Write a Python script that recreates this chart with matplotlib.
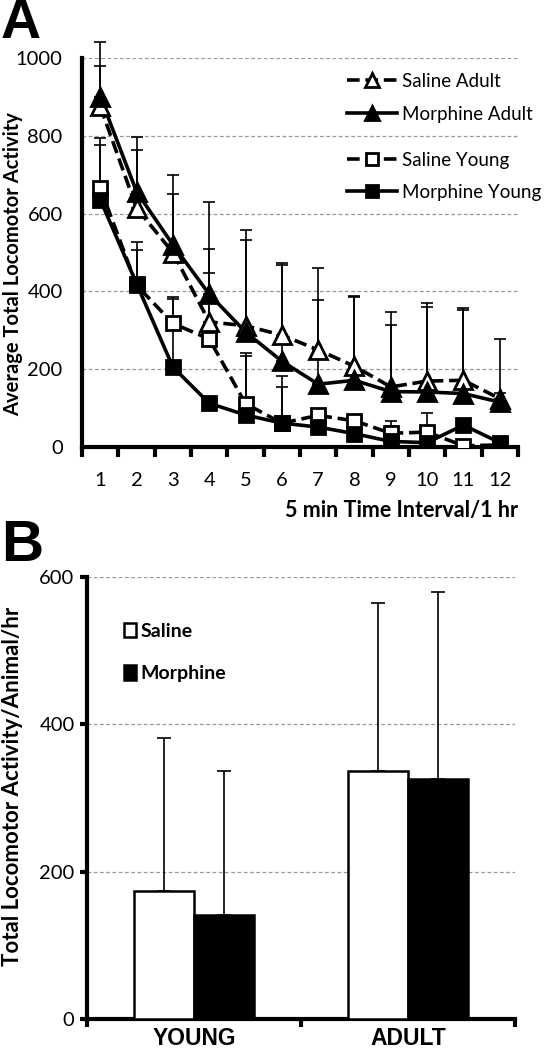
import numpy as np
import matplotlib.pyplot as plt
from matplotlib.lines import Line2D

plt.rcParams['font.family'] = ['Lato', 'DejaVu Sans']

# Panel A data: 5 min intervals
intervals = np.arange(1, 13)
saline_adult = [875, 614, 500, 322, 312, 288, 250, 208, 155, 170, 172, 125]
morphine_adult = [900, 656, 520, 393, 296, 221, 162, 172, 143, 142, 138, 116]
saline_young = [666, 416, 318, 278, 112, 62, 82, 68, 36, 39, 4, 6]
morphine_young = [636, 420, 206, 113, 83, 62, 52, 35, 15, 12, 57, 12]

# upper ends of error bars
saline_adult_top = [979, 763, 650, 509, 532, 468, 378, 386, 314, 360, 352, 140]
morphine_adult_top = [1041, 797, 699, 630, 558, 473, 460, 389, 347, 370, 357, 278]
saline_young_top = [794, 527, 386, 447, 242, 182, 95, 80, 67, 87, 10, 15]
morphine_young_top = [776, 506, 380, 125, 234, 154, 62, 45, 54, 20, 70, 20]

# Panel B data
groups = ['YOUNG', 'ADULT']
saline_total = [174, 337]
morphine_total = [141, 326]
saline_total_top = [381, 565]
morphine_total_top = [337, 580]

fig = plt.figure(figsize=(5.51, 10.5), dpi=100)

# ---------- Panel A ----------
ax = fig.add_axes([0.149, 0.574, 0.791, 0.371])

series = [
    (saline_adult, saline_adult_top, '^', 'white', (0, (3.5, 1.6)), 'Saline Adult'),
    (morphine_adult, morphine_adult_top, '^', 'black', '-', 'Morphine Adult'),
    (saline_young, saline_young_top, 's', 'white', (0, (3.5, 1.6)), 'Saline Young'),
    (morphine_young, morphine_young_top, 's', 'black', '-', 'Morphine Young'),
]

handles = []
for vals, tops, mk, fc, ls, lab in series:
    vals = np.array(vals)
    up = np.array(tops) - vals
    eb = ax.errorbar(intervals, vals, yerr=[np.zeros_like(up), up], fmt='none',
                     ecolor='black', elinewidth=1.2, capsize=4.5, capthick=1.2, zorder=2)
    for art in eb.lines[1] + eb.lines[2]:
        art.set_clip_on(False)
    ax.plot(intervals, vals, linestyle=ls, color='black', linewidth=2.6, zorder=3)
    ax.plot(intervals, vals, linestyle='none', marker=mk, markersize=13 if mk == '^' else 10,
            markerfacecolor=fc, markeredgecolor='black', markeredgewidth=2, zorder=4)
    handles.append(Line2D([], [], linestyle=ls, color='black', linewidth=2.6, marker=mk,
                          markersize=10 if mk == '^' else 8.5, markerfacecolor=fc,
                          markeredgecolor='black', markeredgewidth=2, label=lab))

ax.set_xlim(0.5, 12.5)
ax.set_ylim(0, 1000)
ax.set_yticks([0, 200, 400, 600, 800, 1000])
ax.set_xticks(intervals)
ax.set_xticks(np.arange(0.5, 13, 1), minor=True)
ax.tick_params(axis='x', which='major', length=0, pad=18, labelsize=14.5)
ax.tick_params(axis='x', which='minor', length=7, width=3, direction='out')
ax.tick_params(axis='y', length=0, pad=14, labelsize=14.5)
for s in ['top', 'right']:
    ax.spines[s].set_visible(False)
ax.spines['left'].set_linewidth(3)
ax.spines['bottom'].set_linewidth(3)
ax.yaxis.grid(True, linestyle=(0, (3, 2)), color='#999999', linewidth=0.9)
ax.set_axisbelow(True)

ax.set_ylabel('Average Total Locomotor Activity', fontsize=14.5, fontweight='bold')
ax.yaxis.set_label_coords(-0.135, 0.47)
ax.set_xlabel('5 min Time Interval/1 hr', fontsize=15.5, fontweight='bold')
ax.xaxis.set_label_coords(1.0, -0.135)
ax.xaxis.label.set_horizontalalignment('right')

leg1 = ax.legend(handles=handles[:2], loc='upper left', bbox_to_anchor=(0.587, 0.985),
                 frameon=False, fontsize=13.5, handlelength=2.65, handletextpad=0.27,
                 labelspacing=0.85, borderpad=0)
ax.add_artist(leg1)
ax.legend(handles=handles[2:], loc='upper left', bbox_to_anchor=(0.587, 0.783),
          frameon=False, fontsize=13.5, handlelength=2.65, handletextpad=0.27,
          labelspacing=0.8, borderpad=0)

fig.text(0.002, 1.002, 'A', fontsize=40, fontweight='bold', family='Liberation Sans',
         va='top', ha='left')

# ---------- Panel B ----------
bx = fig.add_axes([0.158, 0.0295, 0.777, 0.421])
xpos = np.arange(len(groups))
w = 0.28
sal = np.array(saline_total)
mor = np.array(morphine_total)
bx.bar(xpos - w / 2, sal, width=w, color='white', edgecolor='black', linewidth=1.8,
       zorder=3, label='Saline')
bx.bar(xpos + w / 2, mor, width=w, color='black', edgecolor='black', linewidth=1.8,
       zorder=3, label='Morphine')
bx.errorbar(xpos - w / 2, sal, yerr=[np.zeros(2), np.array(saline_total_top) - sal],
            fmt='none', ecolor='black', elinewidth=1.2, capsize=5, capthick=1.2, zorder=2)
bx.errorbar(xpos + w / 2, mor, yerr=[np.zeros(2), np.array(morphine_total_top) - mor],
            fmt='none', ecolor='black', elinewidth=1.2, capsize=5, capthick=1.2, zorder=2)

bx.set_xlim(-0.5, 1.5)
bx.set_ylim(0, 600)
bx.set_yticks([0, 200, 400, 600])
bx.set_xticks(xpos)
bx.set_xticklabels(groups, fontsize=16.5, fontweight='bold', family='Liberation Sans')
bx.set_xticks([-0.5, 0.5, 1.5], minor=True)
bx.tick_params(axis='x', which='major', length=0, pad=6)
bx.tick_params(axis='x', which='minor', length=6, width=3, direction='out')
bx.tick_params(axis='y', length=5, width=3, direction='out', pad=4, labelsize=14.5)
for s in ['top', 'right']:
    bx.spines[s].set_visible(False)
bx.spines['left'].set_linewidth(3)
bx.spines['bottom'].set_linewidth(3)
bx.yaxis.grid(True, linestyle=(0, (3, 2)), color='#999999', linewidth=0.9)
bx.set_axisbelow(True)
bx.set_ylabel('Total Locomotor Activity/Animal/hr', fontsize=16, fontweight='bold')
bx.yaxis.set_label_coords(-0.15, 0.527)

bx.legend(loc='upper left', bbox_to_anchor=(0.064, 0.918), frameon=False,
          prop={'weight': 'bold', 'size': 14}, handlelength=0.6, handleheight=0.75,
          handletextpad=0.25, labelspacing=1.3, borderpad=0)

fig.text(0.002, 0.506, 'B', fontsize=42, fontweight='bold', family='Liberation Sans',
         va='top', ha='left')

fig.savefig('out.png', dpi=100)
